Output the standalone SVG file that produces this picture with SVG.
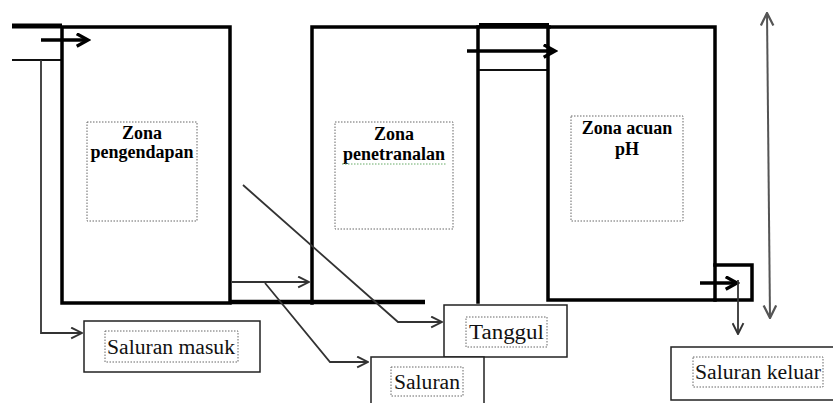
<svg xmlns="http://www.w3.org/2000/svg" width="833" height="403" viewBox="0 0 833 403">
<style>
.wall{fill:none;stroke:#000;stroke-width:3.5;stroke-linecap:square}
.thin{fill:none;stroke:#111;stroke-width:2}
.conn{fill:none;stroke:#333;stroke-width:1.8}
.gray{fill:none;stroke:#555;stroke-width:2}
.lbl{fill:#fff;stroke:#222;stroke-width:1.5}
.dot{fill:none;stroke:#666;stroke-width:1;stroke-dasharray:1.5 1.5}
.zt{font-family:'Liberation Serif','Times New Roman',serif;font-weight:bold;font-size:18px;fill:#000;text-anchor:middle}
.lt{font-family:'Liberation Serif','Times New Roman',serif;font-size:20px;fill:#111}
</style>
<defs>
<marker id="oa" viewBox="0 0 12 12" refX="11" refY="6" markerWidth="13" markerHeight="13" markerUnits="userSpaceOnUse" orient="auto">
<path d="M1,1 L11,6 L1,11" fill="none" stroke="#333" stroke-width="1.8"/>
</marker>
<marker id="ob" viewBox="0 0 12 12" refX="10" refY="6" markerWidth="15" markerHeight="15" markerUnits="userSpaceOnUse" orient="auto">
<path d="M1,1 L10,6 L1,11" fill="none" stroke="#000" stroke-width="2.6"/>
</marker>
<marker id="og" viewBox="0 0 12 12" refX="11" refY="6" markerWidth="15" markerHeight="15" markerUnits="userSpaceOnUse" orient="auto-start-reverse">
<path d="M1,1 L11,6 L1,11" fill="none" stroke="#555" stroke-width="1.8"/>
</marker>
</defs>

<g id="structure">
<line x1="12" y1="26" x2="62" y2="26" stroke="#000" stroke-width="5"/>
<line x1="12" y1="60" x2="62" y2="60" class="thin"/>
<rect x="62" y="27" width="168" height="276" class="wall"/>
<line x1="230" y1="302" x2="425" y2="302" stroke="#000" stroke-width="4.5"/>
<polyline points="312,303 312,27 549,27" class="wall"/>
<line x1="479" y1="25" x2="549" y2="25" stroke="#000" stroke-width="4"/>
<line x1="478" y1="27" x2="478" y2="302" class="wall"/>
<line x1="479" y1="70" x2="548" y2="70" class="thin"/>
<rect x="548" y="27" width="167" height="273" class="wall"/>
<polyline points="715,265 752,265 752,300 715,300" class="wall" stroke-width="3"/>
</g>

<g id="zone1">
<rect x="87" y="122" width="110" height="99" class="dot"/>
<text class="zt" x="142" y="139">Zona</text>
<text class="zt" x="142" y="158">pengendapan</text>
</g>
<g id="zone2">
<rect x="335" y="122" width="118" height="107" class="dot"/>
<text class="zt" x="394" y="140">Zona</text>
<text class="zt" x="394" y="160">penetranalan</text>
<line x1="342" y1="164" x2="446" y2="164" stroke="#6a6" stroke-width="1" stroke-dasharray="1.5 1.5"/>
</g>
<g id="zone3">
<rect x="571" y="116" width="112" height="105" class="dot"/>
<text class="zt" x="627" y="134">Zona acuan</text>
<text class="zt" x="627" y="155">pH</text>
</g>

<g id="connectors">
<line x1="41" y1="40" x2="88" y2="40" stroke="#000" stroke-width="3.5" marker-end="url(#ob)"/>
<line x1="467" y1="51" x2="555" y2="51" stroke="#000" stroke-width="3.5" marker-end="url(#ob)"/>
<line x1="232" y1="282" x2="309" y2="282" class="conn" marker-end="url(#oa)"/>
<line x1="700" y1="283" x2="737" y2="283" stroke="#000" stroke-width="3.5" marker-end="url(#ob)"/>
<line x1="738" y1="280" x2="738" y2="334" class="conn" marker-end="url(#oa)"/>
<line x1="767" y1="13" x2="770" y2="318" class="gray" marker-start="url(#og)" marker-end="url(#og)"/>
<polyline points="41,60 41,333 82,333" class="conn" marker-end="url(#oa)"/>
<polyline points="243,185 398,322 442,322" class="conn" marker-end="url(#oa)"/>
<polyline points="265,283 330,362 368,362" class="conn" marker-end="url(#oa)"/>
</g>

<g id="label-masuk">
<rect x="84" y="321" width="176" height="51" class="lbl"/>
<rect x="105" y="331" width="133" height="31" class="dot"/>
<text class="lt" x="107" y="354" textLength="128" lengthAdjust="spacingAndGlyphs">Saluran masuk</text>
</g>
<g id="label-tanggul">
<rect x="444" y="305" width="123" height="52" class="lbl"/>
<rect x="466" y="317" width="81" height="30" class="dot"/>
<text class="lt" x="469" y="339" textLength="75" lengthAdjust="spacingAndGlyphs">Tanggul</text>
</g>
<g id="label-saluran">
<rect x="371" y="357" width="113" height="50" class="lbl"/>
<rect x="391" y="367" width="72" height="29" class="dot"/>
<text class="lt" x="394" y="389" textLength="66" lengthAdjust="spacingAndGlyphs">Saluran</text>
</g>
<g id="label-keluar">
<rect x="671" y="347" width="166" height="53" class="lbl"/>
<rect x="693" y="357" width="130" height="30" class="dot"/>
<text class="lt" x="695" y="379" textLength="126" lengthAdjust="spacingAndGlyphs">Saluran keluar</text>
</g>
</svg>
